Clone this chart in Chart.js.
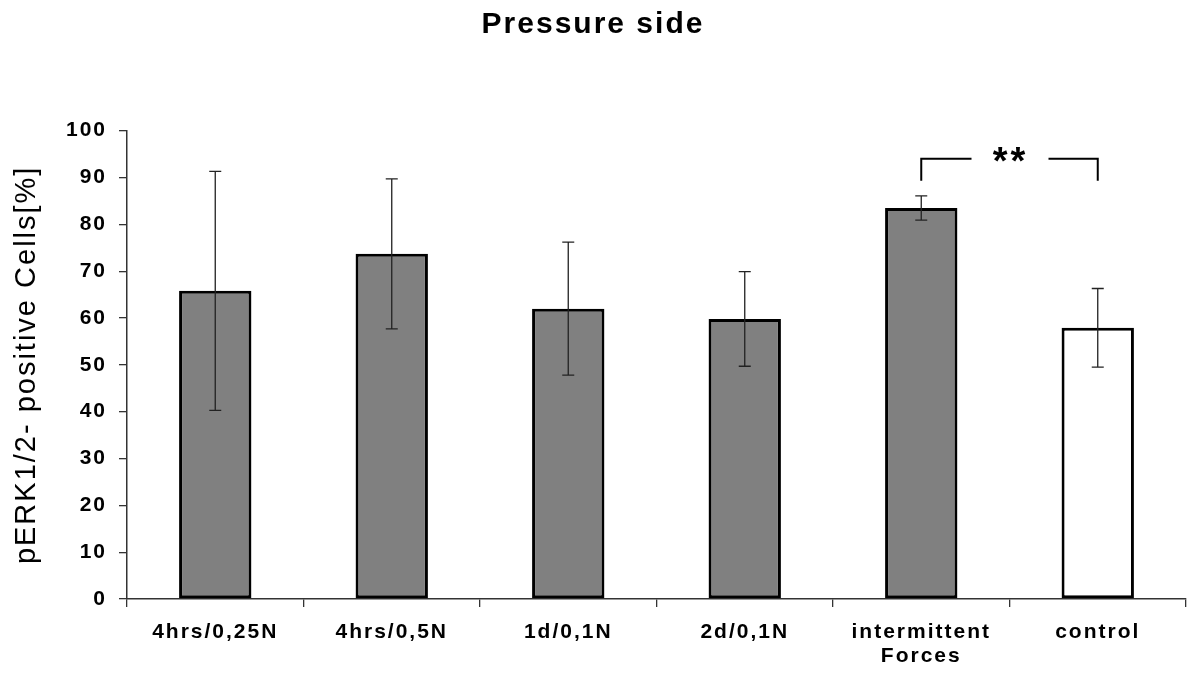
<!DOCTYPE html>
<html>
<head>
<meta charset="utf-8">
<script src="https://cdn.jsdelivr.net/npm/chart.js@4.4.1/dist/chart.umd.min.js"></script>
<style>
    html, body { margin: 0; padding: 0; background: #fff; }
    #wrap { width: 1187px; height: 675px; position: relative; }
</style>
</head>
<body>
<div id="wrap"><canvas id="chart"></canvas></div>
<script>
var categories = ['4hrs/0,25N', '4hrs/0,5N', '1d/0,1N', '2d/0,1N', ['intermittent', 'Forces'], 'control'];
var means = [65.8, 73.7, 62.0, 59.8, 83.5, 57.9];
var errors = [25.5, 16.0, 14.2, 10.1, 2.6, 8.4];
var sigPair = [4, 5];
var sigLevel = 94;
var sigDrop = 89.3;
var sigLabel = '**';

(function () {
    var FONT = "'Liberation Sans', Arial, sans-serif";
    var SPACING = '2px';

    function setSpacing(chart) {
        chart.ctx.letterSpacing = SPACING;
    }

    var spacingPlugin = {
        id: 'spacing',
        beforeUpdate: setSpacing,
        beforeLayout: setSpacing,
        beforeDraw: setSpacing
    };

    var errorBars = {
        id: 'errorBars',
        afterDatasetsDraw: function (chart) {
            var ctx = chart.ctx;
            var y = chart.scales.y;
            var meta = chart.getDatasetMeta(0);
            ctx.save();
            ctx.strokeStyle = '#222';
            ctx.lineWidth = 1.3;
            meta.data.forEach(function (bar, i) {
                var top = y.getPixelForValue(means[i] + errors[i]);
                var bot = y.getPixelForValue(means[i] - errors[i]);
                ctx.beginPath();
                ctx.moveTo(bar.x, top);
                ctx.lineTo(bar.x, bot);
                ctx.moveTo(bar.x - 6, top);
                ctx.lineTo(bar.x + 6, top);
                ctx.moveTo(bar.x - 6, bot);
                ctx.lineTo(bar.x + 6, bot);
                ctx.stroke();
            });
            ctx.restore();
        }
    };

    var sigBracket = {
        id: 'sigBracket',
        afterDatasetsDraw: function (chart) {
            var ctx = chart.ctx;
            var y = chart.scales.y;
            var meta = chart.getDatasetMeta(0);
            var x1 = meta.data[sigPair[0]].x;
            var x2 = meta.data[sigPair[1]].x;
            var yl = y.getPixelForValue(sigLevel);
            var yd = y.getPixelForValue(sigDrop);
            var mid = (x1 + x2) / 2;
            ctx.save();
            ctx.strokeStyle = '#000';
            ctx.lineWidth = 2;
            ctx.beginPath();
            ctx.moveTo(x1, yd);
            ctx.lineTo(x1, yl);
            ctx.lineTo(mid - 38, yl);
            ctx.moveTo(mid + 39, yl);
            ctx.lineTo(x2, yl);
            ctx.lineTo(x2, yd);
            ctx.stroke();
            ctx.fillStyle = '#000';
            ctx.font = 'bold 38px ' + FONT;
            ctx.letterSpacing = '3px';
            ctx.textAlign = 'center';
            ctx.textBaseline = 'alphabetic';
            ctx.fillText(sigLabel, mid + 1, yl + 15);
            ctx.restore();
        }
    };

    var ctx = document.getElementById('chart').getContext('2d');
    new Chart(ctx, {
        type: 'bar',
        data: {
            labels: categories,
            datasets: [{
                data: means,
                backgroundColor: ['#808080', '#808080', '#808080', '#808080', '#808080', '#ffffff'],
                borderColor: '#000',
                borderWidth: 3,
                borderSkipped: false,
                barPercentage: 0.41,
                categoryPercentage: 1
            }]
        },
        options: {
            responsive: true,
            maintainAspectRatio: false,
            animation: false,
            layout: { padding: { left: 0, right: 1, top: 0, bottom: 0 } },
            plugins: {
                legend: { display: false },
                tooltip: { enabled: false },
                title: {
                    display: true,
                    text: 'Pressure side',
                    color: '#000',
                    font: { family: FONT, size: 30, weight: 'bold', lineHeight: 1.2 },
                    padding: { top: 7, bottom: 87.7 }
                }
            },
            scales: {
                x: {
                    afterFit: function (scale) { scale.height = 76; },
                    grid: {
                        drawOnChartArea: false,
                        drawTicks: true,
                        tickLength: 8,
                        color: '#333',
                        lineWidth: 1.3
                    },
                    border: { display: true, color: '#333', width: 1.5 },
                    ticks: {
                        color: '#000',
                        padding: 13,
                        maxRotation: 0,
                        font: { family: FONT, size: 21, weight: 'bold', lineHeight: 1.15 }
                    }
                },
                y: {
                    min: 0,
                    max: 100,
                    afterFit: function (scale) { scale.width = 127; },
                    grid: {
                        drawOnChartArea: false,
                        drawTicks: true,
                        tickLength: 8,
                        color: '#333',
                        lineWidth: 1.3
                    },
                    border: { display: true, color: '#333', width: 1.5 },
                    ticks: {
                        stepSize: 10,
                        color: '#000',
                        padding: 12,
                        font: { family: FONT, size: 21, weight: 'bold' }
                    },
                    title: {
                        display: true,
                        text: 'pERK1/2- positive Cells[%]',
                        color: '#000',
                        font: { family: FONT, size: 29, weight: 'normal', lineHeight: 1.2 },
                        padding: { top: 10, bottom: 0 }
                    }
                }
            }
        },
        plugins: [spacingPlugin, errorBars, sigBracket]
    });
})();
</script>
</body>
</html>
